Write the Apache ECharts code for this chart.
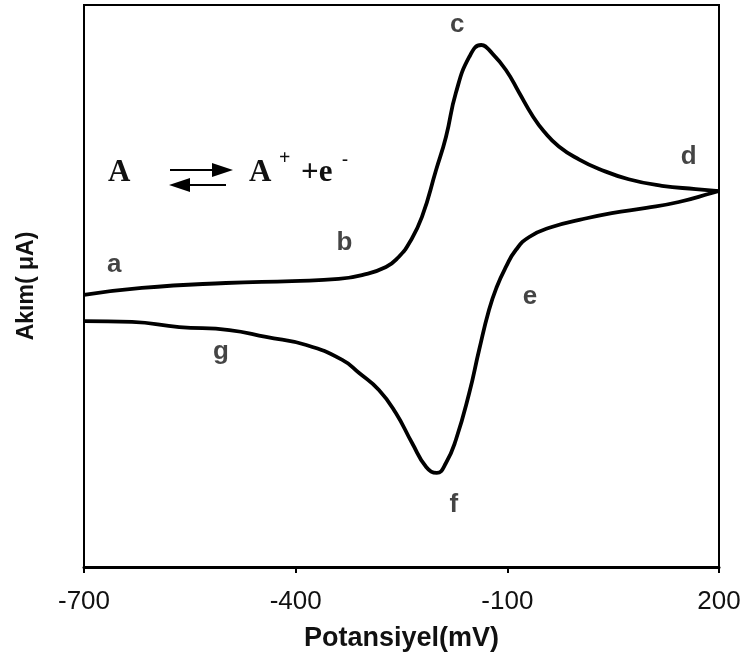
<!DOCTYPE html>
<html>
<head>
<meta charset="utf-8">
<script src="https://cdn.jsdelivr.net/npm/echarts@6/dist/echarts.min.js"></script>
<style>
  html, body { margin: 0; padding: 0; background: #fff; }
  #chart { width: 746px; height: 666px; }
</style>
</head>
<body>
<div id="chart"></div>
<script>
// Cyclic voltammogram of a reversible one-electron couple A <-> A+ + e-
// Anodic (forward) scan, potential in mV
const forwardE = [-700, -618, -499, -405, -339, -306, -272, -254, -239, -221, -201, -187, -173, -154, -137, -122, -102, -83, -65, -48, -27, 2, 30, 72, 119, 167, 200];
const forwardI = [-0.96, -0.21, 0.32, 0.53, 0.75, 1.17, 2.03, 3.10, 4.59, 7.37, 12.38, 15.91, 20.60, 24.45, 25.73, 24.88, 23.06, 20.60, 18.26, 16.50, 14.90, 13.50, 12.50, 11.40, 10.70, 10.35, 10.14];

// Cathodic (reverse) scan
const reverseE = [200, 190, 143, 97, 48, 2, -37, -69, -88, -102, -115, -126, -140, -154, -173, -187, -200, -215, -235, -258, -282, -310, -334, -385, -442, -494, -565, -632, -700];
const reverseI = [10.14, 9.93, 8.97, 8.33, 7.79, 7.05, 6.30, 5.23, 3.84, 2.03, -0.11, -2.56, -6.83, -11.42, -16.44, -18.90, -19.96, -19.32, -16.76, -13.56, -11.10, -9.29, -7.89, -6.30, -5.44, -4.70, -4.38, -3.84, -3.74];

// Point letters along the curve and where they sit (mV, current)
const pointNames = ['a', 'b', 'c', 'd', 'e', 'f', 'g'];
const pointE = [-657, -331, -171, 157, -68, -176, -506];
const pointI = [2.24, 4.59, 27.86, 13.77, -1.17, -23.38, -7.05];

const xTicks = [-700, -400, -100, 200];

const chart = echarts.init(document.getElementById('chart'), null, { renderer: 'canvas' });

const pair = (xs, ys) => xs.map((x, i) => [x, ys[i]]);

const serifBold = { fontFamily: '"Liberation Serif", "Times New Roman", serif', fontWeight: 'bold', fill: '#111' };

chart.setOption({
  animation: false,
  backgroundColor: '#fff',
  grid: {
    left: 84, right: 27, top: 5, bottom: 99,
    show: true, borderColor: '#000', borderWidth: 2, backgroundColor: 'transparent'
  },
  xAxis: {
    type: 'value',
    min: xTicks[0], max: xTicks[xTicks.length - 1], interval: 300,
    name: 'Potansiyel(mV)',
    nameLocation: 'middle',
    nameGap: 58,
    nameTextStyle: { fontFamily: '"Liberation Sans", Arial, sans-serif', fontWeight: 'bold', fontSize: 27, color: '#111' },
    axisLine: { show: true, onZero: false, lineStyle: { color: '#000', width: 3 } },
    axisTick: { show: true, inside: false, length: 6, lineStyle: { color: '#000', width: 2 } },
    axisLabel: { margin: 22, fontFamily: '"Liberation Sans", Arial, sans-serif', fontSize: 26, color: '#111' },
    splitLine: { show: false }
  },
  yAxis: {
    type: 'value',
    min: -30, max: 30,
    name: 'Akım( μA)',
    nameLocation: 'middle',
    nameRotate: 90,
    nameGap: 46,
    nameTextStyle: { fontFamily: '"Liberation Sans", Arial, sans-serif', fontWeight: 'bold', fontSize: 23, color: '#111' },
    axisLine: { show: false, onZero: false },
    axisTick: { show: false },
    axisLabel: { show: false },
    splitLine: { show: false }
  },
  series: [
    {
      name: 'forward', type: 'line', data: pair(forwardE, forwardI),
      smooth: 0.5, symbol: 'none', lineStyle: { color: '#000', width: 3.8 }
    },
    {
      name: 'reverse', type: 'line', data: pair(reverseE, reverseI),
      smooth: 0.5, symbol: 'none', lineStyle: { color: '#000', width: 3.8 }
    },
    {
      name: 'points', type: 'scatter', symbolSize: 0,
      data: pointNames.map((n, i) => ({ name: n, value: [pointE[i], pointI[i]] })),
      label: {
        show: true, position: 'inside', formatter: '{b}',
        fontFamily: '"Liberation Sans", Arial, sans-serif', fontWeight: 'bold', fontSize: 26, color: '#151515'
      },
      silent: true
    }
  ],
  graphic: [
    // reaction scheme: A <=> A+ + e-
    { type: 'text', left: 108, top: 157, style: Object.assign({ text: 'A', fontSize: 31 }, serifBold) },
    { type: 'line', shape: { x1: 170, y1: 170, x2: 216, y2: 170 }, style: { stroke: '#000', lineWidth: 2 } },
    { type: 'polygon', shape: { points: [[212, 163], [233, 170], [212, 177]] }, style: { fill: '#000' } },
    { type: 'line', shape: { x1: 186, y1: 185, x2: 226, y2: 185 }, style: { stroke: '#000', lineWidth: 2 } },
    { type: 'polygon', shape: { points: [[190, 178], [169, 185], [190, 192]] }, style: { fill: '#000' } },
    { type: 'text', left: 249, top: 157, style: Object.assign({ text: 'A', fontSize: 31 }, serifBold) },
    { type: 'text', left: 279, top: 149, style: Object.assign({ text: '+', fontSize: 20 }, serifBold) },
    { type: 'text', left: 301, top: 157, style: Object.assign({ text: '+e', fontSize: 31 }, serifBold) },
    { type: 'text', left: 342, top: 151, style: Object.assign({ text: '-', fontSize: 18 }, serifBold) }
  ]
});
</script>
</body>
</html>
